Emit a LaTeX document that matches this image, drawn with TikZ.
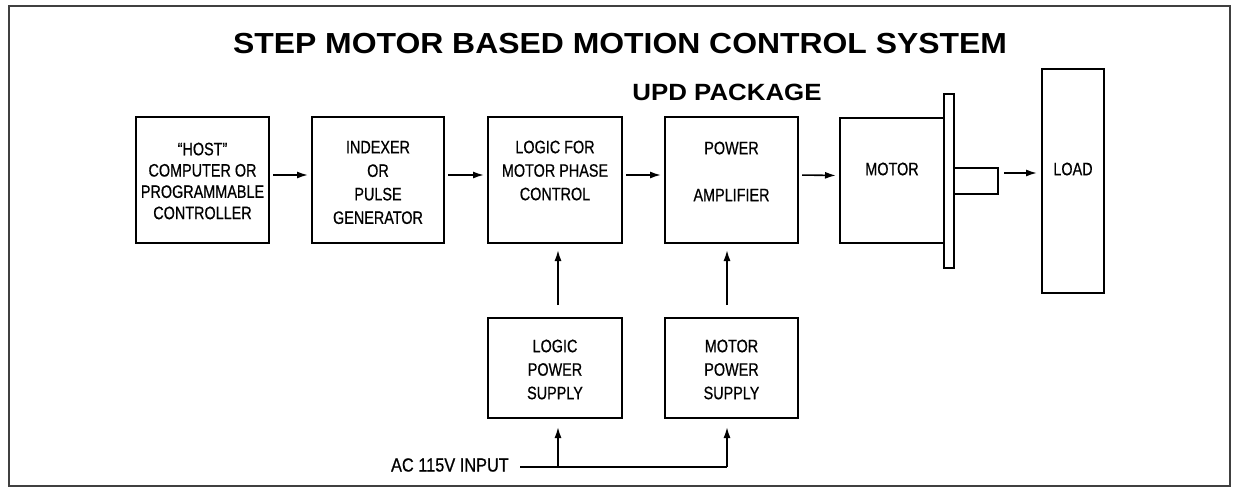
\documentclass[tikz,border=0pt]{standalone}
\usepackage{fontspec}
\setmainfont{Liberation Sans}
\newfontfamily\titlefont[FakeStretch=1.10]{Liberation Sans Bold}
\newfontfamily\boxfont[FakeStretch=0.80,FakeBold=0.6]{Liberation Sans}
\newfontfamily\acfont[FakeStretch=0.86,FakeBold=0.6]{Liberation Sans}
\usetikzlibrary{arrows.meta}
\begin{document}
\begin{tikzpicture}[x=1pt,y=-1pt,
  blk/.style={draw=black,line width=2.4pt,inner sep=0pt,outer sep=0pt},
  lbl/.style={inner sep=0pt,align=center,font=\boxfont\fontsize{18}{23.5}\selectfont},
  conn/.style={line width=1.6pt,-{Latex[length=11pt,width=7pt]}},
  wire/.style={line width=1.6pt}]
\useasboundingbox (0,0) rectangle (1233,491);
\fill[white] (0,0) rectangle (1233,491);
\draw[line width=1.8pt,draw=black!75] (9,6) rectangle (1230,486);
% titles
\node[inner sep=0pt,font=\titlefont\fontsize{29}{34}\selectfont] (title) at (620,44) {STEP MOTOR BASED MOTION CONTROL SYSTEM};
\node[inner sep=0pt,font=\titlefont\fontsize{23.5}{28}\selectfont] (upd) at (727,92) {UPD PACKAGE};
% boxes
\node[blk,minimum width=133pt,minimum height=126pt] (host) at (202.5,180) {};
\node[blk,minimum width=132pt,minimum height=126pt] (idx) at (378,180) {};
\node[blk,minimum width=134pt,minimum height=126pt] (logic) at (555,180) {};
\node[blk,minimum width=133pt,minimum height=126pt] (amp) at (731.5,180) {};
\node[blk,minimum width=104pt,minimum height=125pt] (motor) at (892,180.5) {};
\node[blk,fill=white,minimum width=10pt,minimum height=174pt] (flange) at (949,181) {};
\node[blk,minimum width=44pt,minimum height=26pt] (shaft) at (976,181) {};
\node[blk,minimum width=62pt,minimum height=224pt] (load) at (1073,181) {};
\node[blk,minimum width=134pt,minimum height=100pt] (lps) at (555,368) {};
\node[blk,minimum width=133pt,minimum height=100pt] (mps) at (731.5,368) {};
% labels
\node[lbl,font=\boxfont\fontsize{18}{21.3}\selectfont] (thost) at (202.5,181) {“HOST”\\COMPUTER OR\\PROGRAMMABLE\\CONTROLLER};
\node[lbl] (tidx) at (378,182.5) {INDEXER\\OR\\PULSE\\GENERATOR};
\node[lbl] (tlogic) at (555,170.5) {LOGIC FOR\\MOTOR PHASE\\CONTROL};
\node[lbl] (tamp) at (731.5,148) {POWER};
\node[lbl] (tamp2) at (731.5,195) {AMPLIFIER};
\node[lbl] (tmotor) at (892,169) {MOTOR};
\node[lbl] (tload) at (1073,169) {LOAD};
\node[lbl] (tlps) at (555,369.5) {LOGIC\\POWER\\SUPPLY};
\node[lbl] (tmps) at (731.5,369.5) {MOTOR\\POWER\\SUPPLY};
\node[inner sep=0pt,anchor=east,font=\acfont\fontsize{19}{22}\selectfont] (ac) at (509,465) {AC 115V INPUT};
% horizontal connectors
\draw[conn,shorten <=4pt,shorten >=4pt] ([yshift=5pt]host.east) -- ([yshift=5pt]idx.west);
\draw[conn,shorten <=4pt,shorten >=4pt] ([yshift=5pt]idx.east) -- ([yshift=5pt]logic.west);
\draw[conn,shorten <=4pt,shorten >=4pt] ([yshift=5pt]logic.east) -- ([yshift=5pt]amp.west);
\draw[conn,shorten <=4pt,shorten >=4pt] ([yshift=5pt]amp.east) -- ([yshift=5pt]motor.west);
\draw[conn,shorten <=6pt,shorten >=5pt] ([yshift=8pt]shaft.east) -- ([yshift=8pt]load.west);
% vertical connectors
\draw[conn,shorten <=13pt,shorten >=7pt] ([xshift=3pt]lps.north) -- ([xshift=3pt]logic.south);
\draw[conn,shorten <=13pt,shorten >=7pt] ([xshift=-4.5pt]mps.north) -- ([xshift=-4.5pt]amp.south);
% AC input
\coordinate (acL) at (520,467);
\coordinate (j1) at (558,467);
\coordinate (acR) at (727,467);
\draw[wire] (acL) -- (acR);
\draw[conn,shorten >=9pt] (j1) -- (j1 |- lps.south);
\draw[conn,shorten >=9pt] (acR) -- (acR |- mps.south);
\end{tikzpicture}
\end{document}
